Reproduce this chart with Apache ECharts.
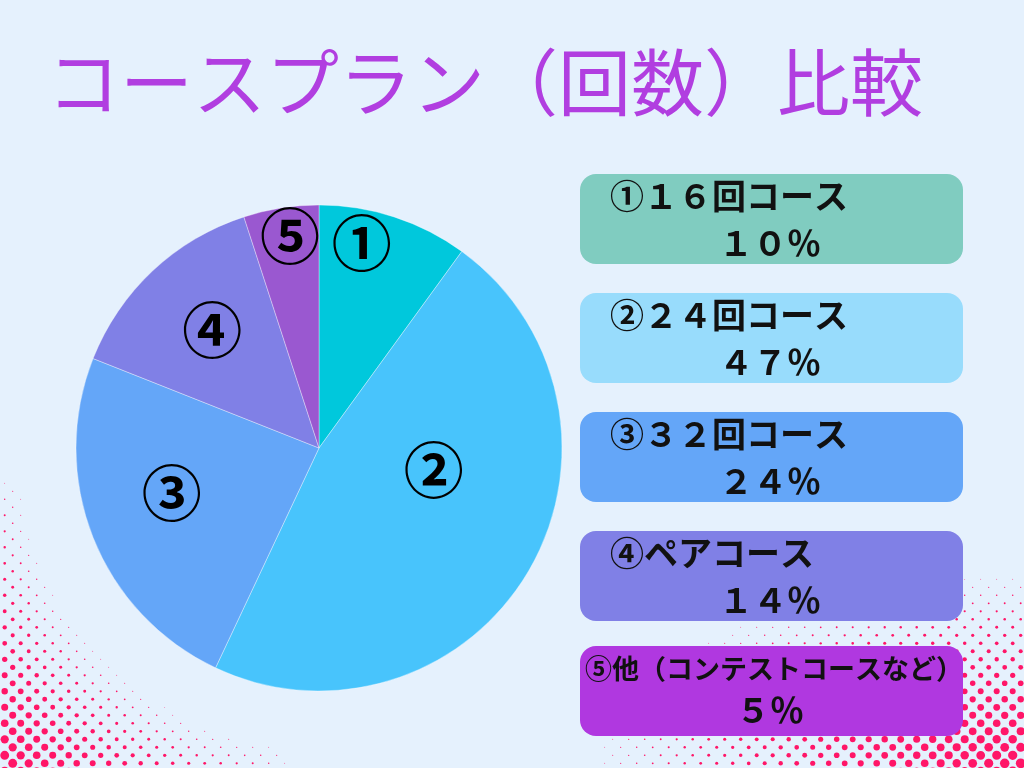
<!DOCTYPE html>
<html>
<head>
<meta charset="utf-8">
<script src="https://cdn.jsdelivr.net/npm/echarts@6/dist/echarts.min.js"></script>
<style>
html,body{margin:0;padding:0;background:#e5f1fd;}
#chart{width:1024px;height:768px;}
</style>
</head>
<body>
<div id="chart"></div>
<script>
// ---- data ----
const titleText = 'コースプラン（回数）比較';
const categories = ['①１６回コース', '②２４回コース', '③３２回コース', '④ペアコース', '⑤他（コンテストコースなど）'];
const values = [10, 47, 24, 14, 5];

// ---- styles ----
const sliceColors = ['#00c8dc', '#48c4fc', '#64a6f8', '#8080e6', '#9a58d0'];
const boxColors = ['#80ccc0', '#98dcfc', '#64a6f8', '#8080e6', '#b038e0'];
const boxTops = [174, 293, 412, 531, 646];
const labelAngleShift = [-6.2, -19.8, 4.6, 1.0, 1.2];
const labelRadiusFrac = [0.862, 0.481, 0.634, 0.654, 0.881];
const CX = 319, CY = 448, R = 243;
const FONT = '"Noto Sans CJK JP", "Noto Sans", sans-serif';

function fullWidth(n) {
  return String(n).replace(/[0-9]/g, d => String.fromCharCode(0xFF10 + Number(d))) + '％';
}

const chart = echarts.init(document.getElementById('chart'));

// halftone decoration
const dots = [];
function addDot(x, y, r) {
  if (r < 0.4) return;
  dots.push({type: 'circle', silent: true, z: 0, shape: {cx: x, cy: y, r: r}, style: {fill: '#ff1668'}});
}
for (let k = 0; ; k++) {
  const y = 3.3 + 8 * k;
  if (y > 772) break;
  const off = (k % 2) ? 8 : 0;
  for (let i = 0; ; i++) {
    const x = 4.7 + 16 * i + off;
    if (x > 1028) break;
    // left-bottom corner
    if (x < 360 && y > 480) {
      const dc = Math.hypot(x, 768 - y);
      const cornerF = 5.4 * (1 - dc / 310);
      const dp = Math.hypot(x - CX, y - CY);
      const pieF = (dp - 288) / 34;
      const r = Math.min(cornerF, pieF, 4.6);
      addDot(x, y, r);
    }
    // right-bottom corner
    if (x > 540 && y > 540) {
      const e = Math.hypot((1024 - x) / 480, (768 - y) / 215);
      if (e < 1) addDot(x, y, 5.0 * Math.pow(1 - e, 1.15));
    }
  }
}

// legend boxes
const boxes = [];
categories.forEach((name, i) => {
  const top = boxTops[i];
  const isLong = name.length > 8;
  boxes.push({
    type: 'rect', z: 5, silent: true,
    shape: {x: 580, y: top, width: 383, height: 90, r: 16},
    style: {fill: boxColors[i]}
  });
  boxes.push({
    type: 'text', z: 6, silent: true,
    style: {
      text: name,
      x: isLong ? 774 : 610,
      y: top + (isLong ? 23 : 22),
      fill: '#111',
      font: 'bold ' + (isLong ? 27 : 34) + 'px ' + FONT,
      align: isLong ? 'center' : 'left', textAlign: isLong ? 'center' : 'left',
      verticalAlign: 'middle', textVerticalAlign: 'middle'
    }
  });
  boxes.push({
    type: 'text', z: 6, silent: true,
    style: {
      text: fullWidth(values[i]),
      x: 770,
      y: top + (isLong ? 64 : 69),
      fill: '#111',
      font: 'bold 34px ' + FONT,
      align: 'center', textAlign: 'center',
      verticalAlign: 'middle', textVerticalAlign: 'middle'
    }
  });
});

chart.setOption({
  backgroundColor: '#e5f1fd',
  animation: false,
  title: {
    text: titleText,
    left: 47, top: 42, padding: 0,
    textStyle: {color: '#b13ee0', fontSize: 73, fontWeight: 'normal', fontFamily: FONT, lineHeight: 80}
  },
  graphic: dots.concat(boxes),
  series: [{
    type: 'pie',
    center: [CX, CY],
    radius: R,
    startAngle: 90,
    clockwise: true,
    z: 2,
    itemStyle: {borderColor: 'rgba(255,255,255,0.35)', borderWidth: 1},
    label: {
      show: true,
      position: 'inside',
      formatter: p => p.name.charAt(0),
      color: '#000',
      fontSize: 60,
      fontWeight: 'bold',
      fontFamily: FONT
    },
    labelLine: {show: false},
    labelLayout: function (p) {
      const i = p.dataIndex;
      const rc = p.labelRect;
      const lx = rc.x + rc.width / 2, ly = rc.y + rc.height / 2;
      const a = Math.atan2(ly - CY, lx - CX) + labelAngleShift[i] * Math.PI / 180;
      const rr = labelRadiusFrac[i] * R;
      return {x: CX + rr * Math.cos(a), y: CY + rr * Math.sin(a), align: 'center', verticalAlign: 'middle'};
    },
    emphasis: {disabled: true},
    data: categories.map((n, i) => ({name: n, value: values[i], itemStyle: {color: sliceColors[i]}}))
  }]
});
</script>
</body>
</html>
